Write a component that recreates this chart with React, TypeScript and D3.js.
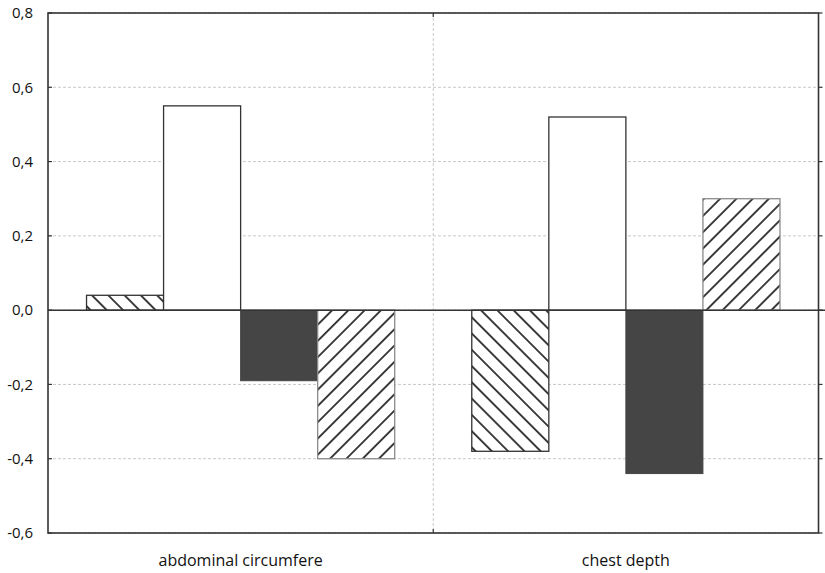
import React from "react";
import * as d3 from "d3";

const categories = ["abdominal circumfere", "chest depth"];
const seriesNames = ["s1", "s2", "s3", "s4"];
const seriesValues: number[][] = [
  [0.04, -0.38],
  [0.55, 0.52],
  [-0.19, -0.44],
  [-0.4, 0.3],
];
const yTicks = [0.8, 0.6, 0.4, 0.2, 0.0, -0.2, -0.4, -0.6];

const W = 825;
const H = 573;
const M = { left: 48, right: 818.5, top: 13, bottom: 533 };
const FONT = "'Open Sans', sans-serif";

export default function App() {
  const x0 = d3.scaleBand<string>().domain(categories).range([M.left, M.right]).paddingInner(0).paddingOuter(0);
  const x1 = d3
    .scaleBand<string>()
    .domain(seriesNames)
    .range([0, x0.bandwidth()])
    .paddingOuter(0.5)
    .paddingInner(0);
  const y = d3.scaleLinear().domain([-0.6, 0.8]).range([M.bottom, M.top]);
  const fmt = (v: number) => d3.format(".1f")(v).replace(".", ",").replace("−", "-");

  const styles = [
    { fill: "url(#hatchBack)", stroke: "#333", sw: 1.3 },
    { fill: "#fff", stroke: "#333", sw: 1.3 },
    { fill: "#454545", stroke: "#454545", sw: 1 },
    { fill: "url(#hatchFwd)", stroke: "#8a8a8a", sw: 1.3 },
  ];
  const P = 11.5;

  return (
    <svg width={W} height={H} style={{ position: "absolute", left: 0, top: 0 }}>
      <defs>
        <pattern id="hatchBack" patternUnits="userSpaceOnUse" width={P} height={P} patternTransform="rotate(-45)">
          <rect width={P} height={P} fill="#fff" />
          <line x1={P / 2} y1={0} x2={P / 2} y2={P} stroke="#111" strokeWidth={1.6} />
        </pattern>
        <pattern id="hatchFwd" patternUnits="userSpaceOnUse" width={P} height={P} patternTransform="rotate(45)">
          <rect width={P} height={P} fill="#fff" />
          <line x1={P / 2} y1={0} x2={P / 2} y2={P} stroke="#111" strokeWidth={1.6} />
        </pattern>
      </defs>
      <rect x={0} y={0} width={W} height={H} fill="#fff" />
      {/* grid */}
      {yTicks.map((t) => (
        <line key={"g" + t} x1={M.left} x2={M.right} y1={y(t)} y2={y(t)} stroke="#c8c8c8" strokeWidth={1} strokeDasharray="3,2" />
      ))}
      <line x1={x0(categories[1])!} x2={x0(categories[1])!} y1={M.top} y2={M.bottom} stroke="#c8c8c8" strokeWidth={1} strokeDasharray="3,2" />
      {/* bars */}
      {categories.map((c, ci) =>
        seriesNames.map((s, si) => {
          const v = seriesValues[si][ci];
          const bx = x0(c)! + x1(s)!;
          const y0 = y(0);
          const yv = y(v);
          const st = styles[si];
          return (
            <rect
              key={c + s}
              x={bx}
              y={Math.min(y0, yv)}
              width={x1.bandwidth()}
              height={Math.abs(yv - y0)}
              fill={st.fill}
              stroke={st.stroke}
              strokeWidth={st.sw}
            />
          );
        })
      )}
      {/* zero line */}
      <line x1={M.left} x2={W} y1={y(0)} y2={y(0)} stroke="#333" strokeWidth={1.5} />
      {/* frame */}
      <rect x={M.left} y={M.top} width={M.right - M.left} height={M.bottom - M.top} fill="none" stroke="#333" strokeWidth={1.6} />
      {/* ticks */}
      {yTicks.map((t) => (
        <g key={"t" + t}>
          <line x1={M.left} x2={M.left + 4} y1={y(t)} y2={y(t)} stroke="#333" strokeWidth={1.2} />
          <line x1={M.right} x2={M.right + 4} y1={y(t)} y2={y(t)} stroke="#333" strokeWidth={1.2} />
          <text x={33} y={y(t)} dy="0.35em" textAnchor="end" fontFamily={FONT} fontSize={15} fill="#111">
            {fmt(t)}
          </text>
        </g>
      ))}
      <line x1={x0(categories[1])!} x2={x0(categories[1])!} y1={M.top} y2={M.top + 4} stroke="#333" strokeWidth={1.2} />
      <line x1={x0(categories[1])!} x2={x0(categories[1])!} y1={M.bottom} y2={M.bottom - 4} stroke="#333" strokeWidth={1.2} />
      {categories.map((c) => (
        <text key={c} x={x0(c)! + x0.bandwidth() / 2} y={566} textAnchor="middle" fontFamily={FONT} fontSize={16} fill="#111">
          {c}
        </text>
      ))}
    </svg>
  );
}
